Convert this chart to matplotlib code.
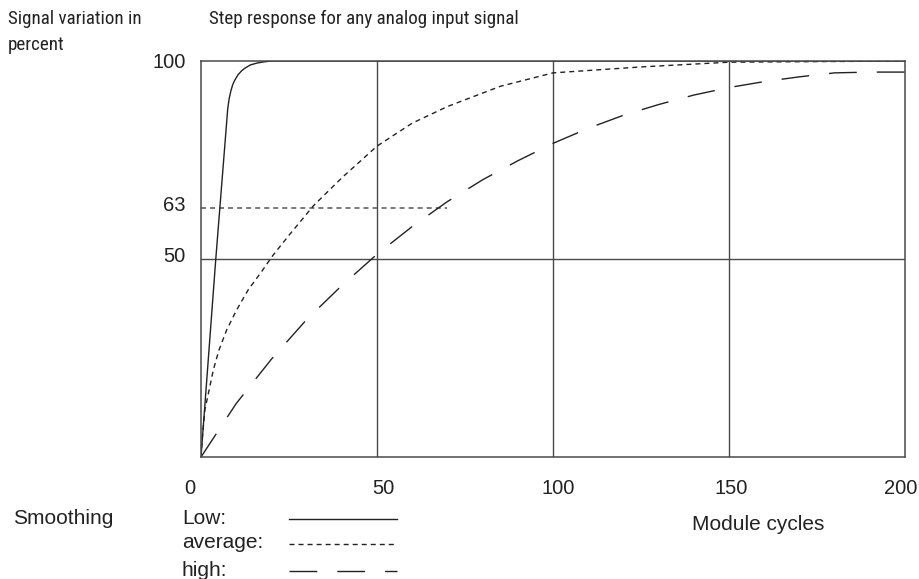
import matplotlib
matplotlib.use("Agg")
import matplotlib.pyplot as plt
from matplotlib.lines import Line2D
from matplotlib import font_manager
import matplotlib.transforms as mtransforms

# step response curves (module cycles -> percent)
low_x = [0, 4.2, 7.6, 8.0, 8.5, 9.0, 9.5, 10.5, 11.5, 12.5, 14, 16, 18, 20, 200]
low_y = [0, 50, 88, 90.5, 92.5, 94, 95, 96.5, 97.5, 98.2, 99, 99.5, 99.8, 100, 100]

avg_x = [0, 0.4, 1.1, 2.3, 3.5, 5.1, 7.3, 10.1, 13.4, 17.2, 20.5, 25, 32, 40, 50,
         60, 70, 85, 100, 125, 150, 200]
avg_y = [0, 5.1, 11.9, 16.9, 22, 27, 32.1, 37.1, 42.2, 46.8, 51, 56, 63.5, 70.5,
         78.5, 84.3, 88.5, 93.6, 97, 98.5, 99.7, 100]

high_x = [0, 10, 20, 30, 40, 50, 60, 70, 80, 90, 100, 110, 120, 130, 140, 150,
          160, 170, 180, 190, 200]
high_y = [0, 13.5, 24.7, 34.7, 43.3, 51.2, 58.2, 64.5, 70, 74.8, 79.2, 83, 86.3,
          89, 91.4, 93.3, 94.8, 96, 97, 97.2, 97.2]

x_ticks = [0, 50, 100, 150, 200]
y_ticks = [50, 63, 100]
grid_x = [50, 100, 150]
grid_y = [50]
mark_63_end = 70

plt.rcParams["font.family"] = ["Liberation Sans", "DejaVu Sans"]
plt.rcParams["lines.scale_dashes"] = False

# the header lines use a narrow face in the reference
names = {f.name for f in font_manager.fontManager.ttflist}
if "Roboto Condensed" in names:
    head_font, head_size = ["Roboto Condensed", "DejaVu Sans"], 13.7
else:
    head_font, head_size = ["Liberation Sans", "DejaVu Sans"], 12.3

ink = "#222222"
frame = "#4a4a4a"
short_dash = (0, (3.6, 2.9))
long_dash = (0, (20, 14.4))

fig = plt.figure(figsize=(9.2, 5.79), dpi=100)
W, H = 920, 579
ax = fig.add_axes([201 / W, 1 - 457 / H, 704 / W, 396 / H])

for gx in grid_x:
    ax.axvline(gx, color=frame, lw=1.0)
for gy in grid_y:
    ax.axhline(gy, color=frame, lw=1.0)
ax.hlines(63, 0, mark_63_end, color="#555555", lw=1.1, linestyle=short_dash)

ax.plot(low_x, low_y, color=ink, lw=1.0, solid_joinstyle="round")
ax.plot(avg_x, avg_y, color=ink, lw=1.0, linestyle=short_dash)
ax.plot(high_x, high_y, color=ink, lw=1.0, linestyle=long_dash)

ax.set_xlim(0, 200)
ax.set_ylim(0, 100)
for s in ax.spines.values():
    s.set_color(frame)
    s.set_linewidth(1.1)

ax.set_xticks(x_ticks)
ax.set_xticklabels([str(v) for v in x_ticks])
ax.set_yticks(y_ticks)
ax.set_yticklabels([str(v) for v in y_ticks])
ax.tick_params(axis="x", length=0, pad=16, labelsize=14.5, labelcolor="#222222")
ax.tick_params(axis="y", length=0, pad=11, labelsize=14.5, labelcolor="#222222")

# small per-label nudges seen in the reference
x_shift = [-11, 6, 5, 2, -4]
for lab, dx in zip(ax.get_xticklabels(), x_shift):
    lab.set_transform(lab.get_transform() +
                      mtransforms.ScaledTranslation(dx / 100, 0, fig.dpi_scale_trans))
y_shift = [5, 4, 1]
for lab, dy in zip(ax.get_yticklabels(), y_shift):
    lab.set_transform(lab.get_transform() +
                      mtransforms.ScaledTranslation(0, dy / 100, fig.dpi_scale_trans))


def ftext(x, y, s, **kw):
    fig.text(x / W, 1 - y / H, s, color="#222222", **kw)


ftext(8, 24, "Signal variation in", fontsize=head_size, family=head_font, va="baseline")
ftext(8, 50, "percent", fontsize=head_size, family=head_font, va="baseline")
ftext(209, 24, "Step response for any analog input signal", fontsize=head_size,
      family=head_font, va="baseline")

ftext(13, 518, "Smoothing", fontsize=15, va="center")
ftext(692, 525, "Module cycles", fontsize=15, va="center")

legend_rows = [("Low:", 518, "-"), ("average:", 543, short_dash), ("high:", 570, long_dash)]
for label, y, ls in legend_rows:
    ftext(182, y, label, fontsize=15, va="center")
    fig.add_artist(Line2D([289 / W, 397 / W], [1 - (y + 1) / H, 1 - (y + 1) / H],
                          transform=fig.transFigure, color=ink, lw=1.0, linestyle=ls))

fig.savefig("out.png", dpi=100)
